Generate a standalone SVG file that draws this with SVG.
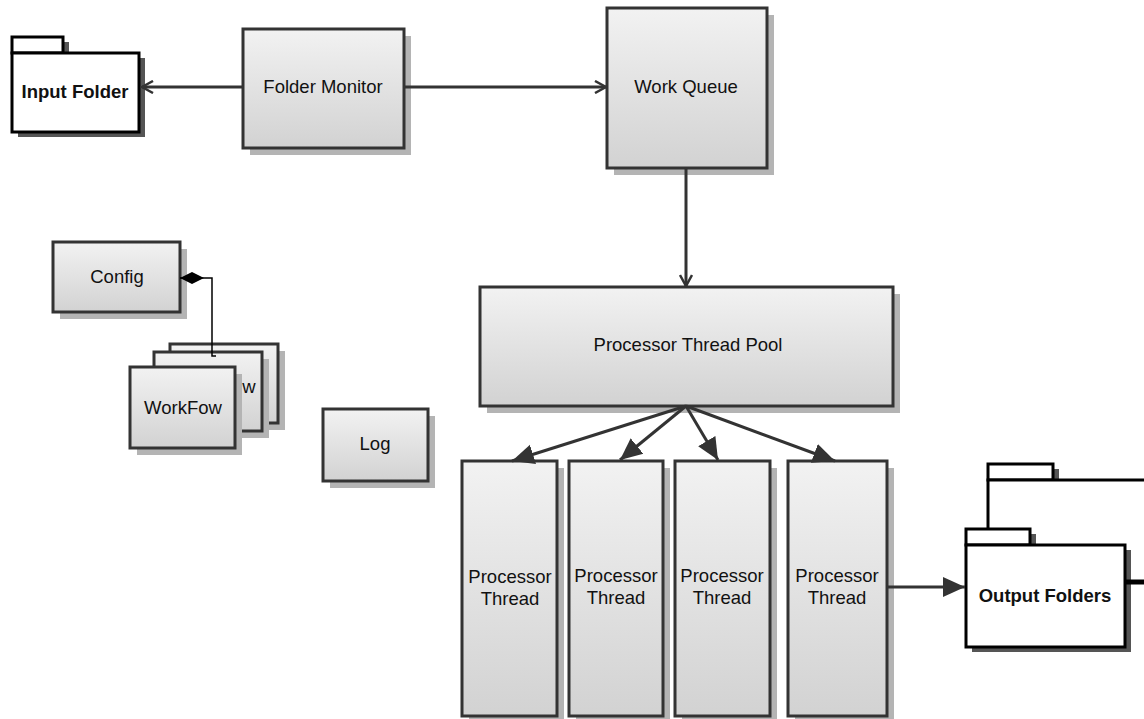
<svg xmlns="http://www.w3.org/2000/svg" width="1144" height="719" viewBox="0 0 1144 719">
<defs>
<linearGradient id="g" x1="0" y1="0" x2="0" y2="1"><stop offset="0" stop-color="#f2f2f2"/><stop offset="1" stop-color="#d2d2d2"/></linearGradient>
<marker id="open" markerWidth="14" markerHeight="14" refX="12" refY="7" orient="auto" markerUnits="userSpaceOnUse"><path d="M1,1 L12,7 L1,13" fill="none" stroke="#333" stroke-width="2.5"/></marker>
<marker id="tri" markerWidth="24" markerHeight="22" refX="22" refY="11" orient="auto" markerUnits="userSpaceOnUse"><path d="M0,1 L22,11 L0,21 Z" fill="#333"/></marker>
<marker id="dia" markerWidth="28" markerHeight="14" refX="1" refY="7" orient="auto" markerUnits="userSpaceOnUse"><path d="M1,7 L13,1 L25,7 L13,13 Z" fill="#000"/></marker>
</defs>
<style>
.box{fill:url(#g);stroke:#333;stroke-width:3}
.sh{fill:#b4b4b4}
.fsh{fill:#555}
.fold{fill:#fff;stroke:#000;stroke-width:3}
.t{font-family:"Liberation Sans",Arial,sans-serif;font-size:18.5px;fill:#111;text-anchor:middle}
.b{font-weight:bold}
.c{stroke:#333;stroke-width:3;fill:none}
</style>

<g id="input-folder">
<rect class="fsh" x="18" y="42" width="51" height="16"/>
<rect class="fsh" x="18" y="58" width="127" height="79"/>
<rect class="fold" x="12" y="37" width="51" height="16"/>
<rect class="fold" x="12" y="53" width="127" height="79"/>
<text class="t b" x="75" y="98">Input Folder</text>
</g>

<g id="folder-monitor">
<rect class="sh" x="250" y="36" width="161" height="119"/>
<rect class="box" x="243" y="29" width="161" height="119"/>
<text class="t" x="323" y="93">Folder Monitor</text>
</g>

<g id="work-queue">
<rect class="sh" x="614" y="15" width="160" height="160"/>
<rect class="box" x="607" y="8" width="160" height="160"/>
<text class="t" x="686" y="93">Work Queue</text>
</g>

<g id="pool">
<rect class="sh" x="487" y="294" width="413" height="119"/>
<rect class="box" x="480" y="287" width="413" height="119"/>
<text class="t" x="688" y="351">Processor Thread Pool</text>
</g>

<g id="config">
<rect class="sh" x="60" y="249" width="127" height="70"/>
<rect class="box" x="53" y="242" width="127" height="70"/>
<text class="t" x="117" y="283">Config</text>
</g>

<g id="workflow">
<rect class="sh" x="177" y="351" width="108" height="79"/>
<rect class="box" x="170" y="344" width="108" height="79"/>
<rect class="sh" x="161" y="359" width="108" height="79"/>
<rect class="box" x="154" y="352" width="108" height="79"/>
<rect class="sh" x="137" y="374" width="105" height="81"/>
<rect class="box" x="130" y="367" width="105" height="81"/>
<text class="t" x="249" y="393">w</text>
<text class="t" x="183" y="414">WorkFow</text>
</g>

<g id="log">
<rect class="sh" x="330" y="416" width="105" height="72"/>
<rect class="box" x="323" y="409" width="105" height="72"/>
<text class="t" x="375" y="450">Log</text>
</g>

<g id="thread1">
<rect class="sh" x="469" y="468" width="95" height="255"/>
<rect class="box" x="462" y="461" width="95" height="255"/>
<text class="t" x="510" y="583">Processor</text>
<text class="t" x="510" y="605">Thread</text>
</g>
<g id="thread2">
<rect class="sh" x="576" y="468" width="94" height="255"/>
<rect class="box" x="569" y="461" width="94" height="255"/>
<text class="t" x="616" y="582">Processor</text>
<text class="t" x="616" y="604">Thread</text>
</g>
<g id="thread3">
<rect class="sh" x="682" y="468" width="95" height="255"/>
<rect class="box" x="675" y="461" width="95" height="255"/>
<text class="t" x="722" y="582">Processor</text>
<text class="t" x="722" y="604">Thread</text>
</g>
<g id="thread4">
<rect class="sh" x="795" y="468" width="99" height="255"/>
<rect class="box" x="788" y="461" width="99" height="255"/>
<text class="t" x="837" y="582">Processor</text>
<text class="t" x="837" y="604">Thread</text>
</g>

<g id="output-folders">
<rect class="fsh" x="994" y="469" width="65" height="16"/>
<rect class="fold" x="988" y="464" width="65" height="16"/>
<path d="M988,530 L988,480 L1150,480" fill="#fff" stroke="#000" stroke-width="3"/>
<rect class="fsh" x="972" y="534" width="64" height="16"/>
<rect class="fsh" x="972" y="550" width="159" height="102"/>
<rect class="fold" x="966" y="529" width="64" height="16"/>
<rect class="fold" x="966" y="545" width="159" height="102"/>
<line x1="1126" y1="582" x2="1144" y2="582" stroke="#000" stroke-width="5"/>
<text class="t b" x="1045" y="602">Output Folders</text>
</g>

<g id="connectors">
<line class="c" x1="243" y1="87" x2="142" y2="87" marker-end="url(#open)"/>
<line class="c" x1="404" y1="87" x2="606" y2="87" marker-end="url(#open)"/>
<line class="c" x1="686" y1="168" x2="686" y2="286" marker-end="url(#open)"/>
<line class="c" x1="686" y1="406" x2="512" y2="461" marker-end="url(#tri)"/>
<line class="c" x1="686" y1="406" x2="620" y2="460" marker-end="url(#tri)"/>
<line class="c" x1="686" y1="406" x2="718" y2="460" marker-end="url(#tri)"/>
<line class="c" x1="686" y1="406" x2="835" y2="461" marker-end="url(#tri)"/>
<line class="c" x1="887" y1="587" x2="965" y2="587" marker-end="url(#tri)"/>
<path d="M180,278 L212,278 L212,356 L216,356" fill="none" stroke="#000" stroke-width="1.5" marker-start="url(#dia)"/>
</g>
</svg>
